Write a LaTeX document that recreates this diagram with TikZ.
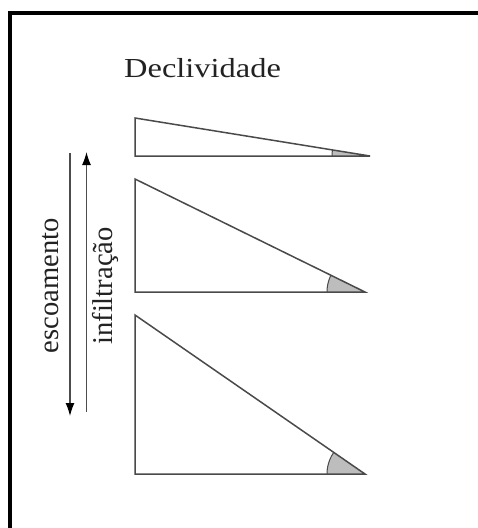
\documentclass[tikz,border=0pt]{standalone}
\usepackage{fontspec}
\setmainfont{Liberation Serif}
\usetikzlibrary{arrows.meta}
\definecolor{edgegray}{HTML}{4A4A4A}
\definecolor{anglegray}{HTML}{BDBDBD}
\definecolor{textgray}{HTML}{222222}
\begin{document}
\begin{tikzpicture}[x=1pt,y=-1pt,
  tri/.style={draw=edgegray,line width=1.5pt,line join=miter},
  angfill/.style={fill=anglegray,draw=edgegray,line width=1pt},
  flow/.style={draw=gray!60!black,line width=1.3pt,-{Latex[length=13pt,width=9pt,fill=black,color=black]}},
  vlabel/.style={rotate=90,inner sep=0pt,text=textgray,font=\fontsize{28.6}{30}\selectfont},
  frameline/.style={line width=4pt,draw=black}]
\useasboundingbox (0,0) rectangle (478,528);
\fill[white] (0,0) rectangle (478,528);
% frame
\draw[frameline] (10,530) -- (10,13) -- (480,13);
% title
\node[anchor=base west,inner sep=0pt,text=textgray] (title) at (124,77)
  {\fontsize{27.5}{28}\selectfont\scalebox{1.18}[1]{Declividade}};
% triangles
\foreach \n/\top/\bot/\tip in {a/118/156/370, b/179/292/365, c/315/474/365}{
  \coordinate (\n top) at (135,\top);
  \coordinate (\n bl) at (135,\bot);
  \coordinate (\n tip) at (\tip,\bot);
  \begin{scope}
    \clip (\n top) -- (\n bl) -- (\n tip) -- cycle;
    \filldraw[angfill] (\n tip) circle[radius=38pt];
  \end{scope}
  \draw[tri] (\n top) -- (\n bl) -- (\n tip) -- cycle;
}
% arrows
\coordinate (esc0) at (70,153);
\coordinate (esc1) at (70,416);
\coordinate (inf0) at (86.5,412);
\coordinate (inf1) at (86.5,152);
\draw[flow] (esc0) -- (esc1);
\draw[flow] (inf0) -- (inf1);
% labels
\node[vlabel] (esc) at (51,285.5) {escoamento};
\node[vlabel] (inf) at (105,286) {infiltração};
\end{tikzpicture}
\end{document}
